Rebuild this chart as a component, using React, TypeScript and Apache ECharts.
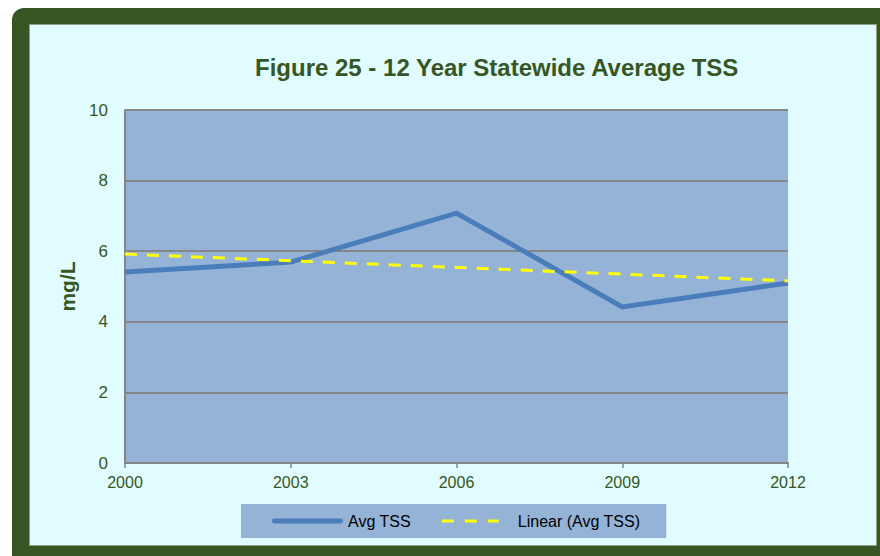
import React, { useEffect, useRef } from "react";
import * as echarts from "echarts";

const years = ["2000", "2003", "2006", "2009", "2012"];
const avgTSS = [5.41, 5.69, 7.08, 4.42, 5.1];
const linearTSS = [5.92, 5.73, 5.54, 5.35, 5.16];
const yTicks = { min: 0, max: 10, interval: 2 };
const titleText = "Figure 25 - 12 Year Statewide Average TSS";
const seriesNames = ["Avg TSS", "Linear (Avg TSS)"];

const FONT = "'Liberation Sans', Arial, sans-serif";
const GREEN = "#375623";

export default function App() {
  const ref = useRef<HTMLDivElement>(null);
  useEffect(() => {
    if (!ref.current) return;
    const chart = echarts.init(ref.current, undefined, { renderer: "svg" });
    chart.setOption({
      animation: false,
      backgroundColor: "#ffffff",
      textStyle: { fontFamily: FONT },
      graphic: [
        {
          type: "rect",
          z: -10,
          silent: true,
          shape: { x: 12, y: 8, width: 900, height: 600, r: [12, 0, 0, 0] },
          style: { fill: GREEN },
        },
        {
          type: "rect",
          z: -9,
          silent: true,
          shape: { x: 29.5, y: 24.5, width: 847, height: 521 },
          style: { fill: "#e0fcfe", stroke: "#8fa08a", lineWidth: 1 },
        },
      ],
      title: {
        text: titleText,
        left: 255,
        top: 55,
        padding: 0,
        textStyle: { fontFamily: FONT, fontSize: 24, fontWeight: "bold", color: GREEN },
      },
      legend: {
        left: 241,
        top: 504,
        padding: [9, 26, 9, 31],
        itemGap: 31,
        itemWidth: 71,
        itemHeight: 14,
        backgroundColor: "#95b3d7",
        textStyle: { fontFamily: FONT, fontSize: 16, color: "#000000" },
        data: [
          { name: seriesNames[0], icon: "path://M2 0H69A2 2 0 0 1 69 5H2A2 2 0 0 1 2 0Z" },
          {
            name: seriesNames[1],
            icon: "path://M0 0H12V3H0Z M23 0H35V3H23Z M46 0H57V3H46Z M71 1.5L71 1.5Z",
          },
        ],
      },
      grid: {
        left: 125,
        right: 92,
        top: 110,
        bottom: 93,
        show: true,
        backgroundColor: "#95b3d7",
        borderWidth: 0,
      },
      xAxis: {
        type: "category",
        data: years,
        boundaryGap: false,
        axisLine: { show: true, lineStyle: { color: "#868686", width: 2 } },
        axisTick: { show: true, length: 5, lineStyle: { color: "#868686", width: 1.5 } },
        axisLabel: { color: GREEN, fontSize: 16, margin: 11, fontFamily: FONT },
        splitLine: { show: false },
      },
      yAxis: {
        type: "value",
        min: yTicks.min,
        max: yTicks.max,
        interval: yTicks.interval,
        name: "mg/L",
        nameLocation: "middle",
        nameRotate: 90,
        nameGap: 46,
        nameTextStyle: { color: GREEN, fontSize: 21, fontWeight: "bold", fontFamily: FONT },
        axisLine: { show: true, lineStyle: { color: "#868686", width: 2 } },
        axisTick: { show: false },
        axisLabel: { color: GREEN, fontSize: 17, margin: 17, fontFamily: FONT },
        splitLine: { show: true, lineStyle: { color: "#868686", width: 2 } },
      },
      series: [
        {
          name: seriesNames[0],
          type: "line",
          data: avgTSS,
          symbol: "none",
          color: "#4a7ebb",
          itemStyle: { color: "#4a7ebb" },
          lineStyle: { color: "#4a7ebb", width: 5, cap: "butt", join: "miter" },
          z: 3,
        },
        {
          name: seriesNames[1],
          type: "line",
          data: linearTSS,
          symbol: "none",
          color: "#ffff00",
          itemStyle: { color: "#ffff00" },
          lineStyle: { color: "#ffff00", width: 3, type: [12, 10] },
          z: 4,
        },
      ],
    });
    return () => chart.dispose();
  }, []);
  return (
    <div
      ref={ref}
      style={{ position: "absolute", left: 0, top: 0, width: 880, height: 556 }}
    />
  );
}
